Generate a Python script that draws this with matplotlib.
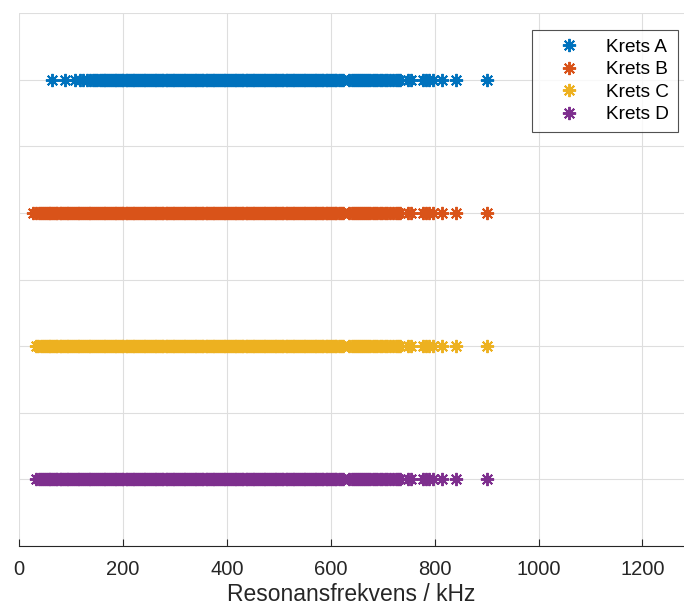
import numpy as np
import matplotlib
matplotlib.use('Agg')
import matplotlib.pyplot as plt

plt.rcParams['font.family'] = ['Liberation Sans', 'DejaVu Sans']

# Resonance frequencies (kHz)
low_A = [63, 88, 108, 117, 124, 131, 137, 142, 147, 151]
low_B = [27, 33, 38]
low_C = [32, 37]
low_D = [33, 38]
low_band = [43, 46, 50, 53, 57, 60, 64, 67, 71, 74, 78, 81, 85, 88, 92, 95,
            99, 102, 106, 109, 113, 116, 120, 123, 127, 130, 134, 137, 141,
            144, 148, 152]
mid_band = [156, 159, 163, 166, 170, 173, 177, 180, 184, 187, 191, 194, 198,
            201, 205, 208, 212, 215, 219, 222, 226, 229, 233, 236, 240, 243,
            247, 250, 254, 257, 261, 264, 268, 271, 275, 278, 282, 285, 289,
            292, 296, 299, 303, 306, 310, 313, 317, 320, 324, 327, 331, 334,
            338, 341, 345, 348, 352, 355, 359, 362, 366, 369, 373, 376, 380,
            383, 387, 390, 394, 397, 401, 404, 408, 411, 415, 418, 422, 425,
            429, 432, 436, 439, 443, 446, 450, 453, 457, 460, 464, 467, 471,
            474, 478, 481, 485, 488, 492, 495, 499, 502, 506, 509, 513, 516,
            520, 523, 527, 530, 534, 537, 541, 544, 548, 551, 555, 558, 562,
            565, 569, 572, 576, 579, 583, 586, 590, 593, 597, 600]
upper_band = [604, 608, 611, 615, 619, 623, 636, 640, 644, 648, 652, 656, 660,
              664, 668, 672, 676, 681, 685, 690, 694, 699, 704, 709, 714, 719,
              725, 730, 734]
tail = [748, 755, 777, 783, 790, 797, 815, 842, 900]

freq_A = low_A + mid_band + upper_band + tail
freq_B = low_B + low_band + mid_band + upper_band + tail
freq_C = low_C + low_band + mid_band + upper_band + tail
freq_D = low_D + low_band + mid_band + upper_band + tail

labels = ['Krets A', 'Krets B', 'Krets C', 'Krets D']
levels = [4, 3, 2, 1]
colors = ['#0072BD', '#D95319', '#EDB120', '#7E2F8E']

fig = plt.figure(figsize=(6.84, 6.08), dpi=100)
ax = fig.add_axes([19/684, 62/608, 1 - 19/684, 533/608])

for f, lvl, c, lab in zip([freq_A, freq_B, freq_C, freq_D], levels, colors, labels):
    ax.plot(f, np.full(len(f), lvl), ls='none', marker=(8, 2, 0),
            markersize=9.5, markeredgewidth=1.4, color=c, label=lab)

ax.set_xlim(0, 1280)
ax.set_ylim(0.5, 4.5)
ax.set_xticks(np.arange(0, 1201, 200))
ax.set_yticks(np.arange(0.5, 4.51, 0.5))
ax.tick_params(axis='y', left=False, labelleft=False)
ax.tick_params(axis='x', direction='in', length=5, width=0.8, colors='#262626',
               labelsize=14.5, pad=10)
ax.grid(True, color='#dedede', linewidth=0.8)
ax.set_axisbelow(True)

for s in ['top', 'right', 'left']:
    ax.spines[s].set_visible(False)
ax.spines['bottom'].set_color('#262626')
ax.spines['bottom'].set_linewidth(0.8)

ax.set_xlabel('Resonansfrekvens / kHz', fontsize=16.5, color='#262626', labelpad=3)

leg = ax.legend(loc='upper right', bbox_to_anchor=(0.991, 0.968), fontsize=13.7,
                frameon=True, fancybox=False, borderpad=0.45, labelspacing=0.27,
                handletextpad=0.45, handlelength=3.0, borderaxespad=0)
leg.get_frame().set_edgecolor('#262626')
leg.get_frame().set_linewidth(0.8)

fig.savefig('out.png', dpi=100)
